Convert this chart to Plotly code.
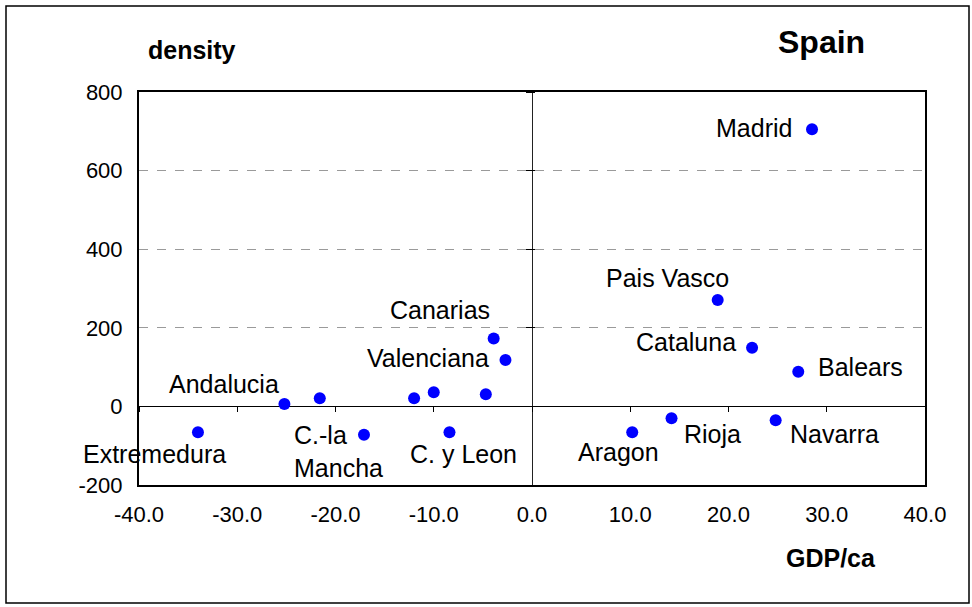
import plotly.graph_objects as go

# Regional GDP per capita deviation (%) vs. population density deviation
regions = ["Madrid", "Pais Vasco", "Cataluna", "Balears", "Aragon", "Rioja", "Navarra",
           "Canarias", "Valenciana", "Andalucia", "Extremedura", "C.-la<br>Mancha", "C. y Leon",
           "", "", "", ""]
gdp_ca = [28.5, 18.9, 22.4, 27.1, 10.2, 14.2, 24.8,
          -3.9, -2.7, -25.2, -34.0, -17.1, -8.4,
          -21.6, -12.0, -10.0, -4.7]
density = [705, 271, 149, 88, -66, -30, -35,
           173, 118, 6, -66, -72, -66,
           21, 21, 36, 31]

# Label placement: (xanchor, xshift px, yshift px)
label_pos = [("right", -18, 1), ("center", -50, 22), ("right", -14, 6), ("left", 18, 5),
             ("center", -14, -20), ("left", 10, -16), ("left", 12, -14),
             ("right", -2, 28), ("right", -14, 2), ("right", -3, 20),
             ("center", -43, -22), ("left", -72, -17), ("left", -41, -22),
             ("left", 0, 0), ("left", 0, 0), ("left", 0, 0), ("left", 0, 0)]

x_ticks = [-40, -30, -20, -10, 0, 10, 20, 30, 40]
x_tick_labels = ["-40.0", "-30.0", "-20.0", "-10.0", "0.0", "10.0", "20.0", "30.0", "40.0"]
y_ticks = [-200, 0, 200, 400, 600, 800]
y_tick_labels = ["-200", "0", "200", "400", "600", "800"]

FONT = "Liberation Sans, Arial, sans-serif"
W, H = 972, 607
ML, MR, MT, MB = 139, 47, 92, 122
plot_h = H - MT - MB
plot_w = W - ML - MR

fig = go.Figure()
fig.add_trace(go.Scatter(
    x=gdp_ca, y=density, mode="markers",
    marker=dict(color="#0000FF", size=12, line=dict(width=0)),
    hoverinfo="skip", showlegend=False,
))
# helper trace so the zero-crossing tick axes are drawn
fig.add_trace(go.Scatter(x=[None], y=[None], xaxis="x2", yaxis="y2",
                         showlegend=False, hoverinfo="skip"))

xr = [x_ticks[0], x_ticks[-1]]
yr = [y_ticks[0], y_ticks[-1]]
y0_frac = (0 - yr[0]) / (yr[1] - yr[0])
x0_frac = (0 - xr[0]) / (xr[1] - xr[0])

fig.update_layout(
    width=W, height=H,
    margin=dict(l=ML, r=MR, t=MT, b=MB),
    paper_bgcolor="white", plot_bgcolor="white",
    font=dict(family=FONT, size=22, color="black"),
    xaxis=dict(range=xr, tickvals=x_ticks, ticktext=x_tick_labels, showgrid=False,
               zeroline=True, zerolinecolor="#222222", zerolinewidth=1,
               showline=True, mirror=True, linecolor="black", linewidth=2,
               ticks="", ticklabelstandoff=9, fixedrange=True),
    yaxis=dict(range=yr, tickvals=y_ticks, ticktext=y_tick_labels,
               showgrid=True, gridcolor="#9a9a9a", griddash="dash", gridwidth=1,
               zeroline=True, zerolinecolor="black", zerolinewidth=1,
               showline=True, mirror=True, linecolor="black", linewidth=2,
               ticks="", ticklabelstandoff=10, fixedrange=True),
    xaxis2=dict(overlaying="x", anchor="free", position=y0_frac, range=xr,
                tickvals=x_ticks, ticks="outside", ticklen=5, tickcolor="black",
                showticklabels=False, showgrid=False, zeroline=False, showline=False),
    yaxis2=dict(overlaying="y", anchor="free", position=x0_frac + 3 / plot_w, range=yr,
                tickvals=y_ticks, ticks="outside", ticklen=9, tickcolor="black",
                showticklabels=False, showgrid=False, zeroline=False, showline=False),
    shapes=[dict(type="rect", xref="paper", yref="paper",
                 x0=-(ML - 6) / plot_w, x1=1 + (MR - 3) / plot_w,
                 y0=-(MB - 4) / plot_h, y1=1 + (MT - 6) / plot_h,
                 line=dict(color="black", width=1.5), layer="below")],
)

# point labels
for name, gx, dy, (xa, xs, ys) in zip(regions, gdp_ca, density, label_pos):
    if not name:
        continue
    fig.add_annotation(x=gx, y=dy, xref="x", yref="y", text=name, showarrow=False,
                       xanchor=xa, yanchor="middle", xshift=xs, yshift=ys, align="left",
                       font=dict(family=FONT, size=25, color="black"))

# axis titles and chart title
fig.add_annotation(text="<b>density</b>", xref="paper", yref="paper",
                   x=(146 - ML) / plot_w, y=1 + (MT - 50) / plot_h,
                   xanchor="left", yanchor="middle", showarrow=False,
                   font=dict(family=FONT, size=25, color="black"))
fig.add_annotation(text="<b>Spain</b>", xref="paper", yref="paper",
                   x=(821 - ML) / plot_w, y=1 + (MT - 42) / plot_h,
                   xanchor="center", yanchor="middle", showarrow=False,
                   font=dict(family=FONT, size=32, color="black"))
fig.add_annotation(text="<b>GDP/ca</b>", xref="paper", yref="paper",
                   x=(831 - ML) / plot_w, y=-(558 - MT - plot_h) / plot_h,
                   xanchor="center", yanchor="middle", showarrow=False,
                   font=dict(family=FONT, size=25, color="black"))

fig.write_html("out.html")
